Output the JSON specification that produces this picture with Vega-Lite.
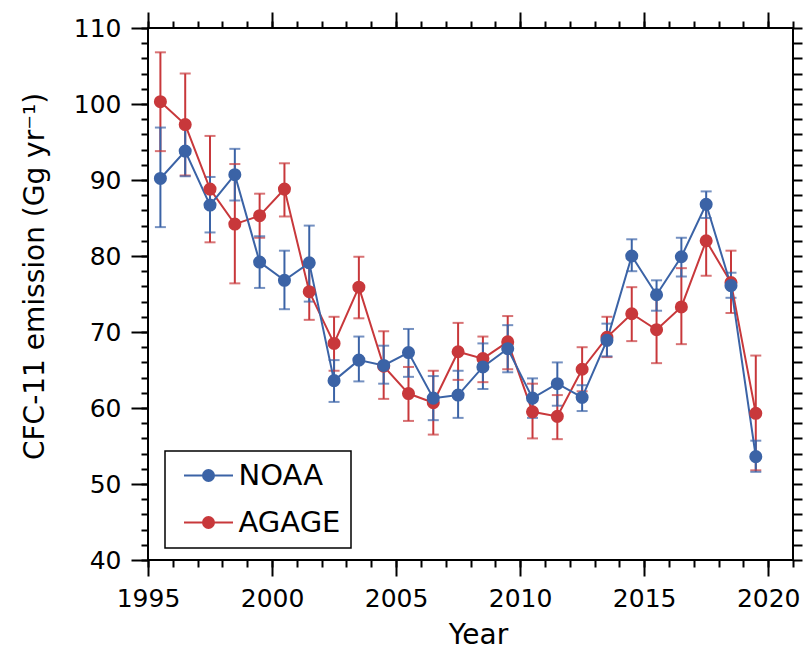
{
  "$schema": "https://vega.github.io/schema/vega-lite/v6.json",
  "autosize": "none",
  "width": 645,
  "height": 532,
  "padding": {"left": 148, "top": 28, "right": 10, "bottom": 90},
  "background": "white",
  "config": {
    "font": "DejaVu Sans",
    "view": {"stroke": "black", "strokeWidth": 2},
    "axis": {
      "grid": false,
      "domain": false,
      "tickColor": "black",
      "tickWidth": 2,
      "labelColor": "black",
      "labelFont": "DejaVu Sans",
      "labelFontSize": 25,
      "labelFlush": false,
      "labelOverlap": false,
      "titleFont": "DejaVu Sans",
      "titleFontSize": 28,
      "titleFontWeight": "normal",
      "titleColor": "black"
    }
  },
  "data": {
    "values": [
      {"source": "AGAGE", "year": 1995.5, "value": 100.3, "lo": 93.8, "hi": 106.8},
      {"source": "AGAGE", "year": 1996.5, "value": 97.3, "lo": 90.6, "hi": 104.0},
      {"source": "AGAGE", "year": 1997.5, "value": 88.8, "lo": 81.8, "hi": 95.8},
      {"source": "AGAGE", "year": 1998.5, "value": 84.2, "lo": 76.4, "hi": 92.1},
      {"source": "AGAGE", "year": 1999.5, "value": 85.3, "lo": 82.4, "hi": 88.2},
      {"source": "AGAGE", "year": 2000.5, "value": 88.8, "lo": 85.2, "hi": 92.2},
      {"source": "AGAGE", "year": 2001.5, "value": 75.3, "lo": 71.6, "hi": 78.9},
      {"source": "AGAGE", "year": 2002.5, "value": 68.5, "lo": 64.9, "hi": 72.0},
      {"source": "AGAGE", "year": 2003.5, "value": 75.9, "lo": 71.8, "hi": 79.9},
      {"source": "AGAGE", "year": 2004.5, "value": 65.5, "lo": 61.2, "hi": 70.1},
      {"source": "AGAGE", "year": 2005.5, "value": 61.9, "lo": 58.3, "hi": 65.4},
      {"source": "AGAGE", "year": 2006.5, "value": 60.7, "lo": 56.5, "hi": 64.9},
      {"source": "AGAGE", "year": 2007.5, "value": 67.4, "lo": 63.7, "hi": 71.2},
      {"source": "AGAGE", "year": 2008.5, "value": 66.5, "lo": 63.4, "hi": 69.4},
      {"source": "AGAGE", "year": 2009.5, "value": 68.7, "lo": 65.1, "hi": 72.1},
      {"source": "AGAGE", "year": 2010.5, "value": 59.5, "lo": 56.0, "hi": 63.2},
      {"source": "AGAGE", "year": 2011.5, "value": 58.9, "lo": 55.9, "hi": 61.7},
      {"source": "AGAGE", "year": 2012.5, "value": 65.1, "lo": 62.2, "hi": 68.0},
      {"source": "AGAGE", "year": 2013.5, "value": 69.3, "lo": 66.7, "hi": 72.0},
      {"source": "AGAGE", "year": 2014.5, "value": 72.4, "lo": 68.8, "hi": 75.9},
      {"source": "AGAGE", "year": 2015.5, "value": 70.3, "lo": 65.9, "hi": 74.6},
      {"source": "AGAGE", "year": 2016.5, "value": 73.3, "lo": 68.4, "hi": 78.4},
      {"source": "AGAGE", "year": 2017.5, "value": 82.0, "lo": 77.4, "hi": 86.7},
      {"source": "AGAGE", "year": 2018.5, "value": 76.5, "lo": 72.5, "hi": 80.7},
      {"source": "AGAGE", "year": 2019.5, "value": 59.3, "lo": 51.8, "hi": 66.9},
      {"source": "NOAA", "year": 1995.5, "value": 90.2, "lo": 83.8, "hi": 96.9},
      {"source": "NOAA", "year": 1996.5, "value": 93.8, "lo": 90.5, "hi": 96.9},
      {"source": "NOAA", "year": 1997.5, "value": 86.7, "lo": 83.1, "hi": 90.4},
      {"source": "NOAA", "year": 1998.5, "value": 90.7, "lo": 87.3, "hi": 94.1},
      {"source": "NOAA", "year": 1999.5, "value": 79.2, "lo": 75.8, "hi": 82.6},
      {"source": "NOAA", "year": 2000.5, "value": 76.8, "lo": 73.0, "hi": 80.7},
      {"source": "NOAA", "year": 2001.5, "value": 79.1, "lo": 74.0, "hi": 84.0},
      {"source": "NOAA", "year": 2002.5, "value": 63.6, "lo": 60.8, "hi": 66.3},
      {"source": "NOAA", "year": 2003.5, "value": 66.3, "lo": 63.5, "hi": 69.4},
      {"source": "NOAA", "year": 2004.5, "value": 65.6, "lo": 63.2, "hi": 68.2},
      {"source": "NOAA", "year": 2005.5, "value": 67.3, "lo": 64.1, "hi": 70.4},
      {"source": "NOAA", "year": 2006.5, "value": 61.3, "lo": 58.4, "hi": 64.2},
      {"source": "NOAA", "year": 2007.5, "value": 61.7, "lo": 58.7, "hi": 64.9},
      {"source": "NOAA", "year": 2008.5, "value": 65.4, "lo": 62.5, "hi": 68.5},
      {"source": "NOAA", "year": 2009.5, "value": 67.8, "lo": 64.7, "hi": 70.9},
      {"source": "NOAA", "year": 2010.5, "value": 61.3, "lo": 58.7, "hi": 63.9},
      {"source": "NOAA", "year": 2011.5, "value": 63.2, "lo": 60.3, "hi": 66.0},
      {"source": "NOAA", "year": 2012.5, "value": 61.4, "lo": 59.6, "hi": 63.0},
      {"source": "NOAA", "year": 2013.5, "value": 68.9, "lo": 66.8, "hi": 71.1},
      {"source": "NOAA", "year": 2014.5, "value": 80.0, "lo": 78.0, "hi": 82.2},
      {"source": "NOAA", "year": 2015.5, "value": 74.9, "lo": 72.8, "hi": 76.8},
      {"source": "NOAA", "year": 2016.5, "value": 79.9, "lo": 77.3, "hi": 82.4},
      {"source": "NOAA", "year": 2017.5, "value": 86.8, "lo": 85.0, "hi": 88.5},
      {"source": "NOAA", "year": 2018.5, "value": 76.1, "lo": 74.5, "hi": 77.8},
      {"source": "NOAA", "year": 2019.5, "value": 53.6, "lo": 51.6, "hi": 55.7}
    ]
  },
  "encoding": {
    "color": {
      "field": "source",
      "type": "nominal",
      "scale": {"domain": ["NOAA", "AGAGE"], "range": ["#3b63a6", "#c8383b"]},
      "legend": {
        "title": null,
        "orient": "none",
        "legendX": 17,
        "legendY": 423,
        "symbolType": "M-2.45,0H2.45M-0.55,0A0.55,0.55,0,1,0,0.55,0A0.55,0.55,0,1,0,-0.55,0Z",
        "symbolSize": 400,
        "symbolStrokeWidth": 2,
        "symbolOffset": 19,
        "labelFont": "DejaVu Sans",
        "labelFontSize": 29,
        "labelColor": "black",
        "labelOffset": 15.5,
        "padding": 10,
        "rowPadding": 17,
        "strokeColor": "black",
        "encode": {
          "legend": {"update": {"strokeWidth": {"value": 1.5}}},
          "symbols": {
            "update": {
              "fill": {"scale": "color", "field": "value"},
              "stroke": {"scale": "color", "field": "value"},
              "fillOpacity": {"value": 1},
              "strokeOpacity": {"value": 1}
            }
          }
        }
      }
    }
  },
  "layer": [
    {
      "mark": {"type": "rule", "strokeWidth": 2},
      "encoding": {
        "x": {
          "field": "year", "type": "quantitative",
          "scale": {"domain": [1995, 2021], "nice": false, "zero": false},
          "axis": {
            "orient": "bottom",
            "values": [1995, 2000, 2005, 2010, 2015, 2020],
            "format": "d",
            "tickSize": 16,
            "labelPadding": 10,
            "title": "Year",
            "titleBaseline": "alphabetic",
            "titleX": 330,
            "titleY": 83
          }
        },
        "y": {
          "field": "lo", "type": "quantitative",
          "scale": {"domain": [40, 110], "nice": false, "zero": false},
          "axis": {
            "orient": "left",
            "values": [40, 50, 60, 70, 80, 90, 100, 110],
            "tickSize": 17,
            "labelPadding": 10,
            "title": "CFC-11 emission (Gg yr⁻¹)",
            "titleAngle": -90,
            "titleAlign": "center",
            "titleBaseline": "alphabetic",
            "titleX": -105,
            "titleY": 248
          }
        },
        "y2": {"field": "hi"}
      }
    },
    {
      "mark": {"type": "tick", "orient": "horizontal", "size": 11, "thickness": 2},
      "encoding": {
        "x": {
          "field": "year", "type": "quantitative",
          "axis": {
            "orient": "bottom",
            "values": [1995, 1996, 1997, 1998, 1999, 2000, 2001, 2002, 2003, 2004, 2005, 2006, 2007, 2008, 2009, 2010, 2011, 2012, 2013, 2014, 2015, 2016, 2017, 2018, 2019, 2020, 2021],
            "tickSize": 7,
            "labels": false,
            "title": null
          }
        },
        "y": {
          "field": "lo", "type": "quantitative",
          "axis": {
            "orient": "left",
            "values": [40, 42, 44, 46, 48, 50, 52, 54, 56, 58, 60, 62, 64, 66, 68, 70, 72, 74, 76, 78, 80, 82, 84, 86, 88, 90, 92, 94, 96, 98, 100, 102, 104, 106, 108, 110],
            "tickSize": 7,
            "labels": false,
            "title": null
          }
        }
      }
    },
    {
      "mark": {"type": "tick", "orient": "horizontal", "size": 11, "thickness": 2},
      "encoding": {
        "x": {
          "field": "year", "type": "quantitative",
          "axis": {
            "orient": "top",
            "values": [1995, 2000, 2005, 2010, 2015, 2020],
            "tickSize": 16,
            "labels": false,
            "title": null
          }
        },
        "y": {
          "field": "hi", "type": "quantitative",
          "axis": {
            "orient": "right",
            "values": [40, 42, 44, 46, 48, 50, 52, 54, 56, 58, 60, 62, 64, 66, 68, 70, 72, 74, 76, 78, 80, 82, 84, 86, 88, 90, 92, 94, 96, 98, 100, 102, 104, 106, 108, 110],
            "tickSize": 9,
            "labels": false,
            "title": null
          }
        }
      }
    },
    {
      "mark": {"type": "line", "strokeWidth": 2},
      "encoding": {
        "x": {
          "field": "year", "type": "quantitative",
          "axis": {
            "orient": "top",
            "values": [1995, 1996, 1997, 1998, 1999, 2000, 2001, 2002, 2003, 2004, 2005, 2006, 2007, 2008, 2009, 2010, 2011, 2012, 2013, 2014, 2015, 2016, 2017, 2018, 2019, 2020, 2021],
            "tickSize": 7,
            "labels": false,
            "title": null
          }
        },
        "y": {"field": "value", "type": "quantitative", "axis": null}
      }
    },
    {
      "mark": {"type": "point", "filled": true, "size": 170, "opacity": 1},
      "encoding": {
        "x": {"field": "year", "type": "quantitative", "axis": null},
        "y": {"field": "value", "type": "quantitative", "axis": null}
      }
    }
  ],
  "resolve": {"axis": {"x": "independent", "y": "independent"}}
}
